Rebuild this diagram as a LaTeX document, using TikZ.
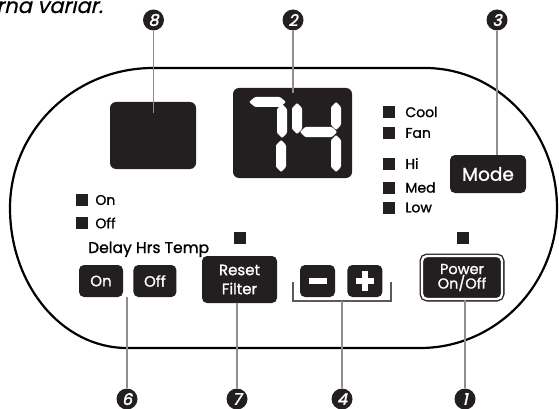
\documentclass[tikz,border=0pt]{standalone}
\usepackage{fontspec}
\setmainfont{Poppins}[FakeBold=1.2]
\newfontfamily\calloutfont[FakeSlant=0.22,FakeBold=2.2]{Poppins}
\newfontfamily\notefont[FakeSlant=0.22,FakeBold=0.6]{Poppins}
\usetikzlibrary{positioning}
\usepackage{xcolor}
\definecolor{PanelBlack}{HTML}{231F20}
\definecolor{LeaderGray}{HTML}{8E8E8E}
\definecolor{BracketGray}{HTML}{5A5A5A}

\begin{document}
\begin{tikzpicture}[
        x=1pt, y=-1pt,
        node distance=10pt,
        outline/.style={draw=black, line width=2.2pt},
        screen/.style={rectangle, fill=PanelBlack, rounded corners=6pt, inner sep=0pt},
        seg/.style={fill=white, rounded corners=1pt},
        btn/.style={rectangle, fill=PanelBlack, text=white, rounded corners=5pt, inner sep=0pt, align=center, font=\fontsize{15}{15}\selectfont},
        glyph/.style={draw=white, line width=5.5pt},
        led/.style={rectangle, fill=PanelBlack, minimum size=12pt, inner sep=0pt},
        ledtext/.style={inner sep=0pt, font=\fontsize{14}{14}\selectfont},
        callout/.style={circle, fill=PanelBlack, text=white, minimum size=21pt, inner sep=0pt, font=\calloutfont\fontsize{16}{16}\selectfont},
        leader/.style={draw=LeaderGray, line width=1.2pt},
        bracket/.style={draw=BracketGray, line width=1.2pt}
    ]
        \useasboundingbox (0,0) rectangle (559,409);

        \node [anchor=base east, inner sep=0pt, font=\notefont\fontsize{21}{21}\selectfont] (note) at (103,13) {rna variar.};

        \draw [outline] (153,68) -- (425,68) .. controls (498,68) and (557,131) .. (557,208)
            .. controls (557,285) and (496,348) .. (420,348) -- (127,348)
            .. controls (62,348) and (10,285) .. (10,208)
            .. controls (10,131) and (74,68) .. (153,68) -- cycle;

        \node [screen, minimum width=86pt, minimum height=67pt] (lcd8) at (153,135.5) {};
        \node [screen, minimum width=119pt, minimum height=90pt] (lcd2) at (292.5,133) {};

        \fill [seg] (249,102) -- (255,97) -- (280,97) -- (286,102) -- (280,107) -- (255,107) -- cycle;
        \fill [seg] (282,104) -- (287,109) -- (287,133) -- (282,138) -- (277,133) -- (277,109) -- cycle;
        \fill [seg] (281,140) -- (286,145) -- (286,167) -- (281,172) -- (276,167) -- (276,145) -- cycle;
        \fill [seg] (297,103) -- (302,108) -- (302,129) -- (297,134) -- (292,129) -- (292,108) -- cycle;
        \fill [seg] (300,132) -- (305,127) -- (332,127) -- (337,132) -- (332,137) -- (305,137) -- cycle;
        \fill [seg] (336,102) -- (341,107) -- (341,125) -- (336,130) -- (331,125) -- (331,107) -- cycle;
        \fill [seg] (336,135) -- (341,140) -- (341,167) -- (336,172) -- (331,167) -- (331,140) -- cycle;

        \node [led] (ledcool) at (388.5,112) {};
        \node [led] (ledfan) at (388.5,133) {};
        \node [led] (ledhi) at (388.5,163.5) {};
        \node [led] (ledmed) at (388.5,187.5) {};
        \node [led] (ledlow) at (388.5,207.5) {};
        \node [ledtext, right=10.5pt of ledcool] (txtcool) {Cool};
        \node [ledtext, right=10.5pt of ledfan] (txtfan) {Fan};
        \node [ledtext, right=10.5pt of ledhi] (txthi) {Hi};
        \node [ledtext, right=10.5pt of ledmed] (txtmed) {Med};
        \node [ledtext, right=10.5pt of ledlow] (txtlow) {Low};

        \node [led] (ledon) at (82,200) {};
        \node [led] (ledoff) at (82,223) {};
        \node [ledtext, right=7pt of ledon] (txton) {On};
        \node [ledtext, right=7pt of ledoff] (txtoff) {Off};

        \node [led] (ledreset) at (240,238) {};
        \node [led] (ledpower) at (463,238) {};

        \node [anchor=base west, inner sep=0pt, font=\fontsize{15.5}{16}\selectfont] (delaytxt) at (88,253) {Delay Hrs Temp};

        \node [btn, minimum width=76pt, minimum height=38pt, font=\fontsize{18.5}{18}\selectfont] (btnmode) at (488,174) {Mode};
        \node [btn, minimum width=80pt, minimum height=43pt, draw=PanelBlack, double=white, double distance=2.4pt, line width=1.3pt, font=\fontsize{14.5}{14.5}\selectfont] (btnpower) at (462,277.5) {Power\\On/Off};
        \node [btn, minimum width=75pt, minimum height=47pt, font=\fontsize{15}{19}\selectfont] (btnreset) at (239.5,279.5) {Reset\\Filter};
        \node [btn, minimum width=44pt, minimum height=32pt] (btnon) at (101,281) {On};
        \node [btn, minimum width=43pt, minimum height=32pt, right=10pt of btnon] (btnoff) {Off};
        \node [btn, minimum width=35pt, minimum height=32pt] (btnminus) at (317.5,281) {};
        \node [btn, minimum width=35pt, minimum height=32pt, right=12pt of btnminus] (btnplus) {};

        \draw [glyph] ([xshift=-9pt]btnminus.center) -- ([xshift=9pt]btnminus.center);
        \draw [glyph] ([xshift=-9pt]btnplus.center) -- ([xshift=9pt]btnplus.center);
        \draw [glyph] ([yshift=-10pt]btnplus.center) -- ([yshift=10pt]btnplus.center);

        \draw [bracket] (293,282) -- (293,301) coordinate (brl) -- (391,301) -- (391,282);
        \coordinate (brb) at (342,301);

        \node [callout] (n8) at (153.5,20) {8};
        \node [callout] (n2) at (293,20) {2};
        \node [callout] (n3) at (497,20) {3};
        \node [callout] (n6) at (127,399) {6};
        \node [callout] (n7) at (237,399) {7};
        \node [callout] (n4) at (342,399) {4};
        \node [callout] (n1) at (465,399) {1};

        \coordinate (tip8) at (153.5,113);
        \coordinate (tip2) at (293,93);

        \draw [leader] (n8) -- (tip8);
        \draw [leader] (n2) -- (tip2);
        \draw [leader] (n3) -- (n3 |- btnmode.north);
        \draw [leader] (n6) -- (n6 |- btnon.south);
        \draw [leader] (n7) -- (n7 |- btnreset.south);
        \draw [leader] (n4) -- (brb);
        \draw [leader] (n1) -- (n1 |- btnpower.south);
    \end{tikzpicture}
\end{document}
